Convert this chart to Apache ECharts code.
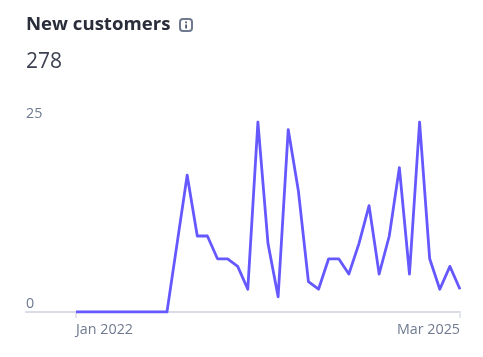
<!DOCTYPE html>
<html><head><meta charset="utf-8">
<style>html,body{margin:0;padding:0;background:#fff}#c{width:483px;height:357px}</style>
<script src="https://cdn.jsdelivr.net/npm/echarts@6/dist/echarts.min.js"></script>
</head><body><div id="c"></div>
<script>
const titleText = 'New customers';
const totalText = '278';
const firstMonth = 'Jan 2022';
const lastMonth = 'Mar 2025';
const yTicks = [0, 25];
const newCustomers = [0,0,0,0,0,0,0,0,0,0,9,18,10,10,7,7,6,3,25,9,2,24,16,4,3,7,7,5,9,14,5,10,19,5,25,7,3,6,3];
const leadingGap = -4.95;

const lastIndex = newCustomers.length - 1;
const font = '"Open Sans","Noto Sans",sans-serif';
const chart = echarts.init(document.getElementById('c'), null, {renderer:'canvas'});
chart.setOption({
  animation:false,
  title:[
    {text:titleText,left:26,top:15,padding:0,textStyle:{fontFamily:font,fontSize:18.6,fontWeight:700,color:'#2a2d3a'}},
    {text:totalText,left:26,top:52,padding:0,textStyle:{fontFamily:font,fontSize:21,fontWeight:400,color:'#3d4252'}}
  ],
  grid:{left:26,right:23,top:122,bottom:45,containLabel:false},
  xAxis:{
    type:'value',min:leadingGap,max:lastIndex,
    splitLine:{show:false},
    axisLine:{show:true,onZero:false,lineStyle:{color:'#d9dce6',width:2}},
    axisTick:{show:true,length:6,customValues:[0,lastIndex],lineStyle:{color:'#e3e5ec',width:2}},
    axisLabel:{
      show:true,customValues:[0,lastIndex],margin:11,
      fontFamily:font,fontSize:14.3,color:'#6f7a90',
      alignMinLabel:'left',alignMaxLabel:'right',
      formatter:v=>v===0?firstMonth:lastMonth
    }
  },
  yAxis:{
    type:'value',min:yTicks[0],max:yTicks[1],interval:yTicks[1],
    splitLine:{show:false},axisLine:{show:false},axisTick:{show:false},
    axisLabel:{inside:true,margin:0,verticalAlign:'bottom',padding:[0,0,1,0],fontFamily:font,fontSize:14.3,color:'#6f7a90'}
  },
  series:[{
    type:'line',showSymbol:false,symbol:'none',
    data:newCustomers.map((v,i)=>[i,v]),
    lineStyle:{color:'#6558ff',width:2.8,join:'round'},
    itemStyle:{color:'#6558ff'}
  }],
  graphic:[
    {type:'rect',shape:{x:180,y:19,width:12,height:12,r:3},style:{fill:'#fff',stroke:'#6f7a90',lineWidth:2}},
    {type:'rect',shape:{x:185.2,y:21.5,width:1.8,height:1.8},style:{fill:'#4f586e'}},
    {type:'rect',shape:{x:185.2,y:24.5,width:1.8,height:4},style:{fill:'#4f586e'}}
  ]
});
</script></body></html>
